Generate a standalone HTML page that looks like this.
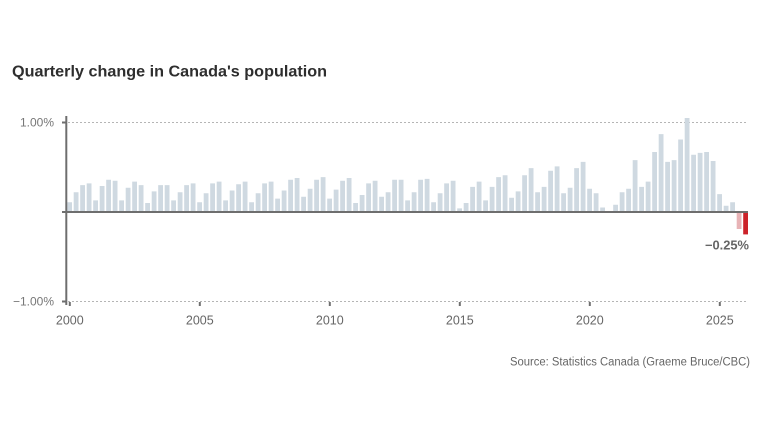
<!DOCTYPE html>
<html>
<head>
<meta charset="utf-8">
<style>
html,body{margin:0;padding:0;background:#fff;}
svg{display:block;}
text{font-family:"Liberation Sans",sans-serif;}
</style>
</head>
<body>
<svg width="768" height="432" viewBox="0 0 768 432" xmlns="http://www.w3.org/2000/svg">
<rect width="768" height="432" fill="#fff"/>
<text x="12" y="76.5" font-size="16" font-weight="bold" fill="#2e2e2e" textLength="315" lengthAdjust="spacingAndGlyphs">Quarterly change in Canada's population</text>
<line x1="68" y1="122.5" x2="748" y2="122.5" stroke="#b5b5b5" stroke-width="1" stroke-dasharray="2,2"/>
<line x1="68" y1="301.5" x2="748" y2="301.5" stroke="#b5b5b5" stroke-width="1" stroke-dasharray="2,2"/>
<path fill="#cfd9e1" d="M67.2 212v-9.8h4.8v9.8zM73.7 212v-19.7h4.8v19.7zM80.2 212v-26.9h4.8v26.9zM86.7 212v-28.6h4.8v28.6zM93.2 212v-11.6h4.8v11.6zM99.7 212v-26h4.8v26zM106.2 212v-32.2h4.8v32.2zM112.7 212v-31.3h4.8v31.3zM119.2 212v-11.6h4.8v11.6zM125.7 212v-24.2h4.8v24.2zM132.2 212v-30.4h4.8v30.4zM138.7 212v-26.9h4.8v26.9zM145.2 212v-9h4.8v9zM151.7 212v-20.6h4.8v20.6zM158.2 212v-26.9h4.8v26.9zM164.7 212v-26.9h4.8v26.9zM171.2 212v-11.6h4.8v11.6zM177.7 212v-19.7h4.8v19.7zM184.2 212v-26.9h4.8v26.9zM190.7 212v-28.6h4.8v28.6zM197.2 212v-9.8h4.8v9.8zM203.7 212v-18.8h4.8v18.8zM210.2 212v-28.6h4.8v28.6zM216.7 212v-30.4h4.8v30.4zM223.2 212v-11.6h4.8v11.6zM229.7 212v-21.5h4.8v21.5zM236.2 212v-27.7h4.8v27.7zM242.7 212v-30.4h4.8v30.4zM249.2 212v-9.8h4.8v9.8zM255.7 212v-18.8h4.8v18.8zM262.2 212v-28.6h4.8v28.6zM268.7 212v-30.4h4.8v30.4zM275.2 212v-13.4h4.8v13.4zM281.7 212v-21.5h4.8v21.5zM288.2 212v-32.2h4.8v32.2zM294.7 212v-34h4.8v34zM301.2 212v-15.2h4.8v15.2zM307.7 212v-23.3h4.8v23.3zM314.2 212v-32.2h4.8v32.2zM320.7 212v-34.9h4.8v34.9zM327.2 212v-13.4h4.8v13.4zM333.7 212v-22.4h4.8v22.4zM340.2 212v-31.3h4.8v31.3zM346.7 212v-34h4.8v34zM353.2 212v-9h4.8v9zM359.7 212v-17h4.8v17zM366.2 212v-28.6h4.8v28.6zM372.7 212v-31.3h4.8v31.3zM379.2 212v-15.2h4.8v15.2zM385.7 212v-19.7h4.8v19.7zM392.2 212v-32.2h4.8v32.2zM398.7 212v-32.2h4.8v32.2zM405.2 212v-11.6h4.8v11.6zM411.7 212v-19.7h4.8v19.7zM418.2 212v-32.2h4.8v32.2zM424.7 212v-33.1h4.8v33.1zM431.2 212v-9.8h4.8v9.8zM437.7 212v-18.8h4.8v18.8zM444.2 212v-28.6h4.8v28.6zM450.7 212v-31.3h4.8v31.3zM457.2 212v-3.6h4.8v3.6zM463.7 212v-9h4.8v9zM470.2 212v-25.1h4.8v25.1zM476.7 212v-30.4h4.8v30.4zM483.2 212v-11.6h4.8v11.6zM489.7 212v-25.1h4.8v25.1zM496.2 212v-34.9h4.8v34.9zM502.7 212v-36.7h4.8v36.7zM509.2 212v-14.3h4.8v14.3zM515.7 212v-20.6h4.8v20.6zM522.2 212v-36.7h4.8v36.7zM528.7 212v-43.9h4.8v43.9zM535.2 212v-19.7h4.8v19.7zM541.7 212v-25.1h4.8v25.1zM548.2 212v-41.2h4.8v41.2zM554.7 212v-45.6h4.8v45.6zM561.2 212v-18.8h4.8v18.8zM567.7 212v-24.2h4.8v24.2zM574.2 212v-43.9h4.8v43.9zM580.7 212v-50.1h4.8v50.1zM587.2 212v-23.3h4.8v23.3zM593.7 212v-18.8h4.8v18.8zM600.2 212v-4.5h4.8v4.5zM613.2 212v-7.2h4.8v7.2zM619.7 212v-19.7h4.8v19.7zM626.2 212v-23.3h4.8v23.3zM632.7 212v-51.9h4.8v51.9zM639.2 212v-25.1h4.8v25.1zM645.7 212v-30.4h4.8v30.4zM652.2 212v-60h4.8v60zM658.7 212v-77.9h4.8v77.9zM665.2 212v-50.1h4.8v50.1zM671.7 212v-51.9h4.8v51.9zM678.2 212v-72.5h4.8v72.5zM684.7 212v-94h4.8v94zM691.2 212v-57.3h4.8v57.3zM697.7 212v-59.1h4.8v59.1zM704.2 212v-60h4.8v60zM710.7 212v-51h4.8v51zM717.2 212v-17.9h4.8v17.9zM723.7 212v-6.3h4.8v6.3zM730.2 212v-9.8h4.8v9.8z"/>
<rect x="736.7" y="212" width="4.8" height="17" fill="#e8b3b6"/>
<rect x="743.2" y="212" width="4.8" height="22.4" fill="#cc2229"/>
<line x1="62" y1="212" x2="748" y2="212" stroke="#6e6e6e" stroke-width="2"/>
<line x1="66.3" y1="116" x2="66.3" y2="305" stroke="#6e6e6e" stroke-width="2"/>
<line x1="62" y1="122.5" x2="66" y2="122.5" stroke="#6e6e6e" stroke-width="2"/>
<line x1="62" y1="301.5" x2="66" y2="301.5" stroke="#6e6e6e" stroke-width="2"/>
<text x="54" y="126.5" font-size="12" fill="#777" text-anchor="end">1.00%</text>
<text x="54" y="305.5" font-size="12" fill="#777" text-anchor="end">−1.00%</text>
<path stroke="#6e6e6e" stroke-width="2" d="M69.8 302v4M199.8 302v4M329.8 302v4M459.8 302v4M589.8 302v4M719.8 302v4"/>
<g font-size="12.5" fill="#666" text-anchor="middle">
<text x="69.8" y="324.5">2000</text>
<text x="199.8" y="324.5">2005</text>
<text x="329.8" y="324.5">2010</text>
<text x="459.8" y="324.5">2015</text>
<text x="589.8" y="324.5">2020</text>
<text x="719.8" y="324.5">2025</text>
</g>
<text x="749" y="249.5" font-size="12.5" font-weight="bold" fill="#666" text-anchor="end" textLength="44" lengthAdjust="spacingAndGlyphs">−0.25%</text>
<text x="750" y="365.5" font-size="11.5" fill="#666" text-anchor="end" textLength="240" lengthAdjust="spacingAndGlyphs">Source: Statistics Canada (Graeme Bruce/CBC)</text>
</svg>
</body>
</html>
